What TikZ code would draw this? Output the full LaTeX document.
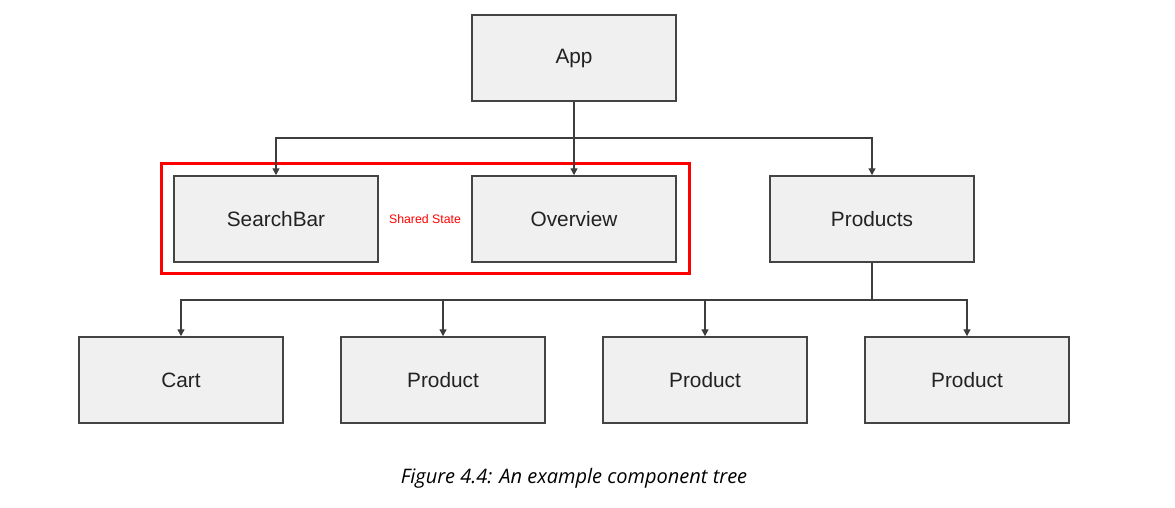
\documentclass[tikz,border=0pt]{standalone}
\usepackage{fontspec}
\setmainfont{Liberation Sans}
\newfontfamily\capfont{Open Sans}
\usetikzlibrary{arrows.meta}
\definecolor{boxfill}{HTML}{F0F0F0}
\definecolor{boxline}{HTML}{444444}
\definecolor{txt}{HTML}{222222}
\definecolor{redline}{HTML}{FF0000}
\begin{document}
\begin{tikzpicture}[x=1pt,y=-1pt,
  comp/.style={draw=boxline, line width=1.5pt, fill=boxfill, minimum width=204pt, minimum height=86pt, inner sep=0pt, text=txt, font=\fontsize{20.8}{24}\selectfont},
  conn/.style={draw=boxline!90!black, line width=1.4pt, -{Triangle[length=7pt,width=7pt]}},
  trunk/.style={draw=boxline!90!black, line width=1.4pt}]
\useasboundingbox (0,0) rectangle (1175,507);
\node[comp] (app) at (574,58) {App};
\node[comp] (search) at (276,219) {SearchBar};
\node[comp] (over) at (574,219) {Overview};
\node[comp] (prods) at (872,219) {Products};
\node[comp] (cart) at (181,380) {Cart};
\node[comp] (p1) at (443,380) {Product};
\node[comp] (p2) at (705,380) {Product};
\node[comp] (p3) at (967,380) {Product};
\node[draw=redline, line width=3pt, minimum width=528pt, minimum height=110pt, inner sep=0pt] (shared) at (425.5,218.5) {};
\node[text=redline, font=\fontsize{12.3}{14}\selectfont] (sharedlbl) at (425,219) {Shared State};
\coordinate (j1) at (574,138);
\coordinate (j2) at (872,300);
\draw[trunk] (app.south) -- (j1);
\draw[conn] (j1) -| (search.north);
\draw[conn] (j1) -- (over.north);
\draw[conn] (j1) -| (prods.north);
\draw[trunk] (prods.south) -- (j2);
\draw[conn] (j2) -| (cart.north);
\draw[conn] (j2) -| (p1.north);
\draw[conn] (j2) -| (p2.north);
\draw[conn] (j2) -| (p3.north);
\node[font=\capfont\itshape\fontsize{20}{24}\selectfont, text=black] (caption) at (574,478) {Figure 4.4: An example component tree};
\end{tikzpicture}
\end{document}
